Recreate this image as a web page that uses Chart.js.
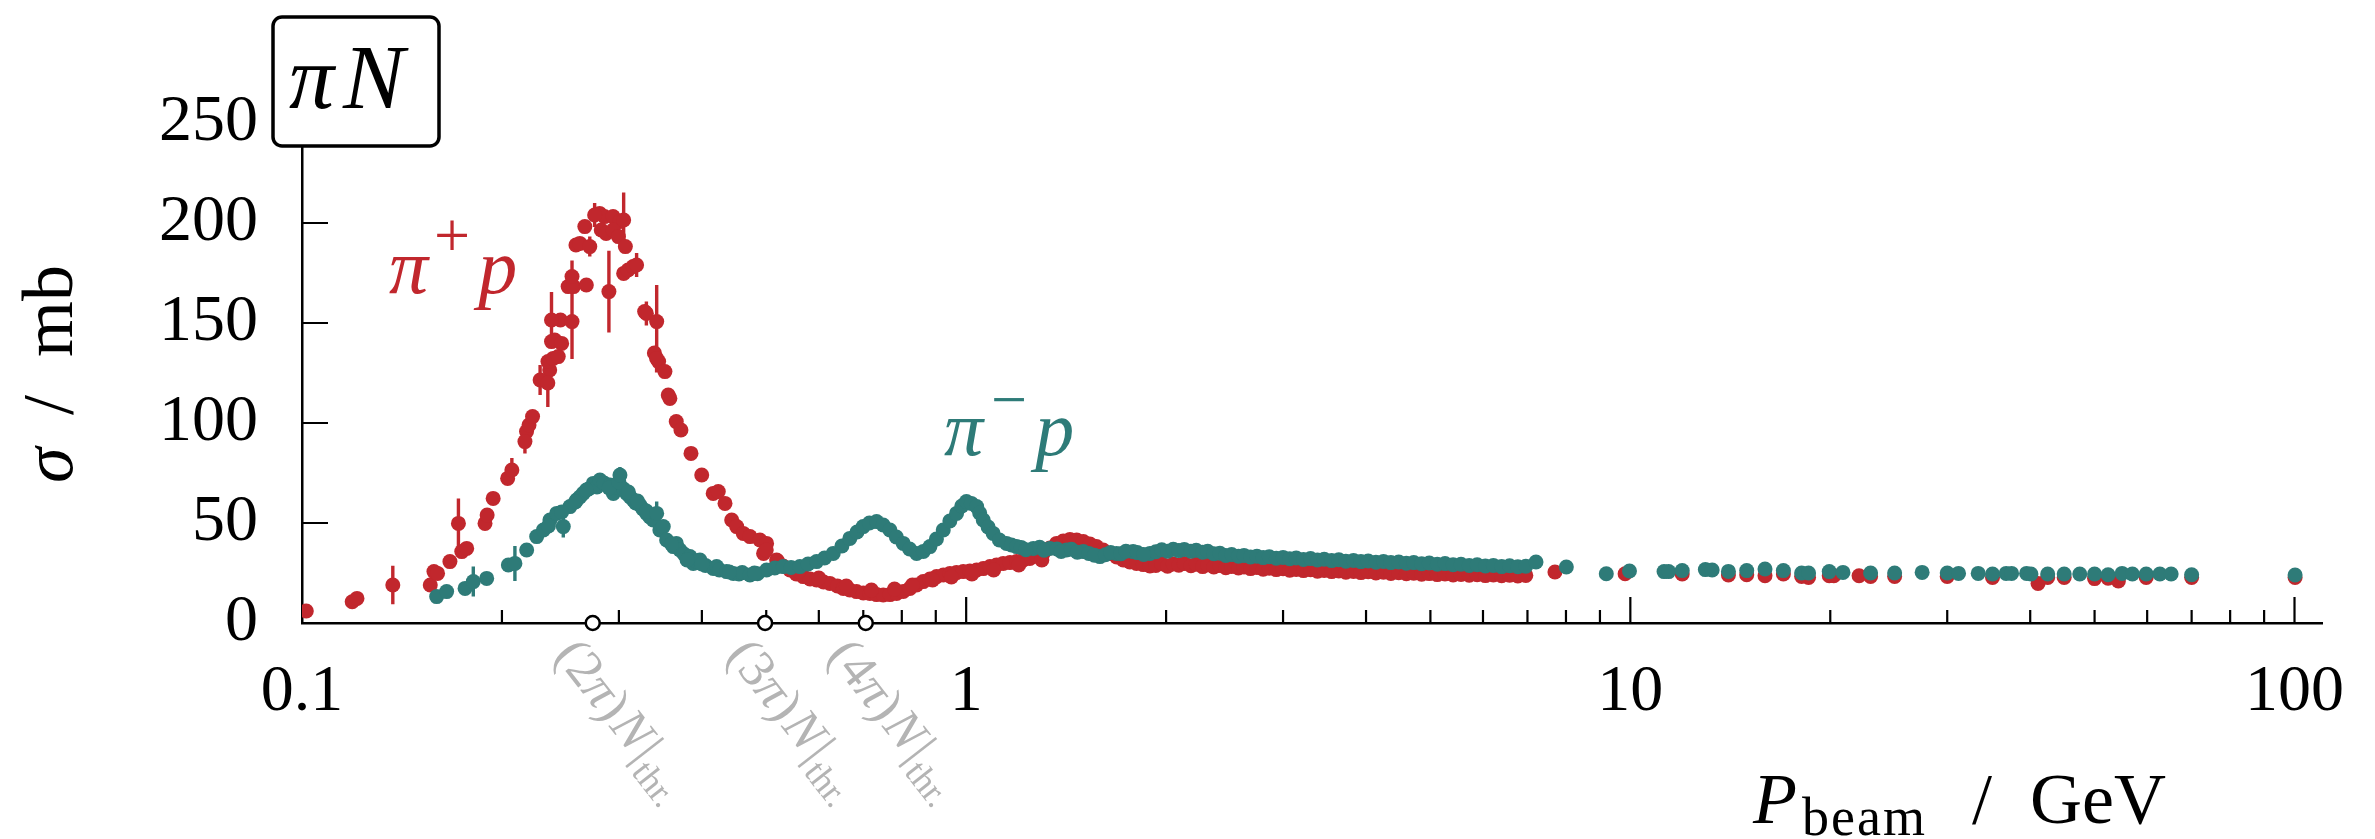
<!DOCTYPE html>
<html>
<head>
<meta charset="utf-8">
<script src="https://cdn.jsdelivr.net/npm/chart.js@4.4.1/dist/chart.umd.min.js"></script>
<style>
  html, body { margin: 0; padding: 0; background: #fff; }
  #wrap { width: 2375px; height: 839px; }
</style>
</head>
<body>
<div id="wrap"><canvas id="chart" width="2375" height="839"></canvas></div>
<script>
// pi+ p total cross section (red)
const piPlusP = [
  0.1015, 0.119, 0.121, 0.156, 0.158, 0.160, 0.167, 0.174, 0.177, 0.1886,
  0.190, 0.194, 0.204, 0.2178, 0.2197, 0.2224, 0.236, 0.2346, 0.2375, 0.2389,
  0.2402, 0.2431, 0.246, 0.245, 0.2516, 0.2563, 0.268, 0.2585, 0.262, 0.2666,
  0.2806, 0.2854, 0.294, 0.301, 0.2822, 0.287, 0.294, 0.2995, 0.3068, 0.305,
  0.3097, 0.3152, 0.328, 0.3393, 0.3443, 0.3519, 0.356, 0.358, 0.366, 0.372,
  0.3852, 0.3998, 0.416, 0.4234, 0.4334, 0.4436, 0.4513, 0.4617, 0.4726, 0.4892,
  0.5006, 0.4954, 0.5183, 0.53, 0.5428, 0.555, 0.5684, 0.582, 0.5953, 0.61,
  0.6235, 0.64, 0.653, 0.668, 0.6839, 0.70, 0.7162, 0.733, 0.7501, 0.768,
  0.7856, 0.804, 0.8228, 0.842, 0.8617, 0.882, 0.9025, 0.924, 0.9452, 0.967,
  0.990, 1.013, 1.037, 1.061, 1.086, 1.111, 1.137, 1.164, 1.191, 1.219,
  1.247, 1.276, 1.306, 1.337, 1.368, 1.40, 1.433, 1.467, 1.501, 1.536,
  1.571, 1.608, 1.646, 1.685, 1.724, 1.764, 1.805, 1.848, 1.891, 1.93,
  1.97, 2.01, 2.05, 2.09, 2.13, 2.18, 2.22, 2.27, 2.31, 2.36,
  2.41, 2.46, 2.51, 2.57, 2.62, 2.68, 2.74, 2.80, 2.86, 2.93,
  3.00, 3.07, 3.14, 3.22, 3.30, 3.38, 3.46, 3.55, 3.64, 3.73,
  3.83, 3.93, 4.03, 4.14, 4.25, 4.36, 4.48, 4.60, 4.72, 4.85,
  4.98, 5.12, 5.26, 5.41, 5.56, 5.72, 5.88, 6.05, 6.22, 6.40,
  6.58, 6.77, 6.96, 7.70, 9.82, 11.97, 14.05, 14.97, 15.95, 17.0,
  18.11, 18.55, 19.93, 20.25, 22.1, 23.0, 25.0, 30.0, 35.1, 41.1,
  42.5, 45.0, 50.0, 52.4, 54.3, 59.8, 70.0, 100.2,
  0.5, 0.52, 0.56, 0.6, 0.66, 0.72, 0.78, 0.83, 0.89, 0.95, 1.02, 1.1, 1.2, 1.3
];
const piPlusSigma = [
  6, 10.6, 12.3, 19, 25.7, 24.8, 30.7, 35.7, 37.3, 49.8,
  54, 62.3, 72.3, 95.7, 99, 103.2, 126.5, 130.7, 140.7, 132.3,
  141.5, 133.2, 139.8, 151.5, 168.2, 168.2, 169, 189, 189.8, 198.2,
  204.8, 203.2, 203.2, 200.7, 196.5, 194.8, 196.5, 193.2, 188.2, 174.8,
  176.5, 178.2, 155.7, 135, 130.7, 125.7, 114, 112.3, 100.7, 96.5,
  84.8, 74, 64.8, 65.7, 59.8, 51.5, 48.2, 44.8, 43.2, 41.5,
  39.8, 34.8, 31.5, 28.5, 26.5, 24.5, 23.2, 22, 21.5, 20.5,
  19.8, 18.5, 17.3, 16.5, 15.7, 15, 14.8, 14.2, 14, 14.2,
  14.8, 15.8, 17.3, 19, 20.7, 22, 23.2, 24, 24.8, 25.2,
  25.7, 26, 26.5, 27.2, 28.2, 29, 29.8, 30.2, 30.7, 31.5,
  32.3, 33.5, 34.8, 37.5, 39.8, 41, 41.8, 41.5, 40.7, 39.5,
  38.2, 36.5, 34.8, 33, 31.5, 30.5, 29.8, 29.2, 28.5, 28.8,
  29.6, 28.4, 29.5, 28.9, 29.8, 28.6, 29.4, 28.2, 29.1, 28.0,
  28.8, 27.6, 28.3, 27.5, 28.0, 27.2, 27.8, 26.9, 27.4, 26.7,
  27.1, 26.4, 26.8, 26.2, 26.6, 25.9, 26.3, 25.7, 26.0, 25.4,
  25.8, 25.2, 25.6, 25.0, 25.4, 24.8, 25.1, 24.6, 24.9, 24.4,
  24.7, 24.2, 24.5, 24.0, 24.3, 23.9, 24.1, 23.7, 24.0, 23.6,
  23.9, 23.5, 23.8, 25.5, 24.6, 24.5, 24.0, 24.1, 23.6, 24.5,
  23.3, 22.8, 23.6, 23.6, 23.6, 23.3, 23.3, 23.3, 22.8, 19.8,
  22.8, 22.8, 22.2, 22.4, 21.0, 22.8, 22.8, 22.8,
  36.5, 31, 26, 22.5, 18.5, 16.5, 17, 19, 21.5, 23, 24.5, 26.5, 29, 31.5
];
// pi+ p points that carry an error bar
const piPlusErrP     = [0.137, 0.172, 0.207, 0.2166, 0.2283, 0.2345, 0.2375, 0.255, 0.255, 0.2712, 0.2758, 0.2898, 0.305, 0.319, 0.330, 0.342, 0.3419];
const piPlusErrSigma = [19, 49.8, 76.5, 90.7, 121.5, 120, 151.5, 150.7, 173.2, 188.2, 204, 165.7, 201.5, 179, 154.8, 150.7, 132.3];
const piPlusErrSize  = [9.6, 12.5, 6, 6, 7.5, 12, 14, 18.7, 8, 5, 6, 20.4, 13.7, 6, 6, 18.3, 7];

// pi- p total cross section (teal)
const piMinusP = [
  0.1595, 0.1651, 0.1760, 0.1897, 0.2045, 0.2179, 0.2256, 0.2309, 0.2362, 0.2418,
  0.2532, 0.2591, 0.262, 0.2651, 0.270, 0.2745, 0.278, 0.2809, 0.285, 0.2909,
  0.2943, 0.298, 0.305, 0.3082, 0.312, 0.3153, 0.318, 0.3227, 0.326, 0.3303,
  0.334, 0.3379, 0.3458, 0.3499, 0.354, 0.3623, 0.3661, 0.3707, 0.376, 0.3838,
  0.3882, 0.392, 0.3973, 0.405, 0.416, 0.421, 0.425, 0.4358, 0.4461, 0.455,
  0.46, 0.4726, 0.485, 0.5006, 0.515, 0.5304, 0.545, 0.5619, 0.578, 0.5953,
  0.612, 0.6307, 0.65, 0.6681, 0.685, 0.6998, 0.715, 0.733, 0.75, 0.7677,
  0.785, 0.804, 0.822, 0.8422, 0.862, 0.882, 0.902, 0.9236, 0.945, 0.9672,
  0.985, 1.001, 1.018, 1.037, 1.048, 1.061, 1.079, 1.098, 1.122, 1.150,
  1.17, 1.191, 1.262, 1.336, 1.416, 1.501, 1.590, 1.684, 1.784, 1.891,
  1.93, 1.97, 2.01, 2.05, 2.09, 2.13, 2.18, 2.22, 2.27, 2.31,
  2.36, 2.41, 2.46, 2.51, 2.57, 2.62, 2.68, 2.74, 2.80, 2.86,
  2.93, 3.00, 3.07, 3.14, 3.22, 3.30, 3.38, 3.46, 3.55, 3.64,
  3.73, 3.83, 3.93, 4.03, 4.14, 4.25, 4.36, 4.48, 4.60, 4.72,
  4.85, 4.98, 5.12, 5.26, 5.41, 5.56, 5.72, 5.88, 6.05, 6.22,
  6.40, 6.58, 6.77, 6.96, 7.21, 8.01, 9.2, 9.97, 11.24, 11.42,
  11.97, 12.97, 13.28, 14.05, 14.97, 15.95, 17.0, 18.11, 18.55, 19.93,
  20.9, 23.0, 25.0, 27.5, 30.0, 31.2, 33.4, 35.1, 36.8, 37.5,
  39.5, 40.1, 42.5, 45.0, 47.5, 50.0, 52.4, 55.0, 57.0, 59.8,
  62.7, 65.2, 70.0, 100.2,
  1.21, 1.23, 1.29, 1.31, 1.37, 1.39, 1.44, 1.47, 1.53, 1.56,
  1.62, 1.65, 1.71, 1.74, 1.81, 1.85, 0.235, 0.246, 0.258, 0.268,
  0.29, 0.3, 0.31, 0.32, 0.33, 0.36, 0.38, 0.4, 0.44, 0.48
];
const piMinusSigma = [
  13.2, 15.7, 17.3, 22.3, 29, 36.5, 43.2, 46.5, 51.5, 54.8,
  58.2, 61.5, 63, 64.8, 67, 69.8, 68, 71.5, 70, 69,
  64.8, 68, 67, 64.8, 63, 61.5, 60, 59, 57, 54.8,
  53, 51.5, 46.5, 48.2, 41.5, 38.2, 39.8, 36.5, 34.5, 33.2,
  29.8, 31, 31.5, 28.8, 27.3, 28.2, 26.5, 25.7, 24.8, 24.5,
  25.2, 24, 24.6, 26.5, 27.5, 28.2, 27.8, 28.2, 29.5, 30.7,
  32.5, 34.8, 38.5, 42.3, 45.5, 48.2, 50, 50.7, 49, 46.5,
  43, 39.8, 37, 34.8, 35.8, 38.2, 42, 46.5, 51, 54.8,
  58.5, 60.7, 59.8, 58.2, 55, 51.5, 48, 44.8, 41.5, 39.8,
  39, 38.2, 37.3, 37.3, 36.5, 35.7, 33.2, 34.8, 35.7, 34.8,
  35.6, 36.6, 35.9, 36.9, 36.2, 36.8, 35.9, 36.4, 35.4, 35.9,
  34.6, 34.9, 33.8, 34.2, 33.4, 33.8, 33.0, 33.4, 32.7, 33.1,
  32.4, 32.8, 32.1, 32.5, 31.8, 32.2, 31.5, 31.9, 31.2, 31.6,
  30.9, 31.3, 30.7, 31.0, 30.4, 30.8, 30.2, 30.5, 29.9, 30.2,
  29.6, 30.0, 29.4, 29.7, 29.1, 29.4, 28.8, 29.1, 28.5, 28.8,
  28.2, 28.6, 28.1, 28.4, 30.5, 28.0, 24.6, 26.0, 25.7, 25.7,
  26.2, 26.7, 26.5, 25.8, 26.2, 27.0, 26.2, 25.0, 25.0, 25.7,
  25.3, 25.0, 25.0, 25.3, 25.0, 24.8, 24.8, 24.5, 24.8, 24.8,
  24.8, 24.5, 24.5, 24.5, 24.5, 24.5, 24.1, 24.8, 24.5, 24.5,
  24.5, 24.5, 24.1, 24.0,
  37.8, 36.6, 37.9, 36.4, 37.0, 35.8, 36.9, 35.4, 34.8, 33.9,
  34.1, 35.2, 34.6, 35.9, 35.2, 34.3, 48.5, 55.5, 60.5, 66.5,
  67.5, 70.5, 65.5, 61, 56, 39.5, 31.5, 29.5, 25.5, 25
];
const piMinusErrP     = [0.1811, 0.2092, 0.2474, 0.3011, 0.342];
const piMinusErrSigma = [20.7, 29.8, 48.2, 74, 54.8];
const piMinusErrSize  = [7.5, 8.75, 5.5, 4, 6];

// (n pi) N production thresholds on the beam momentum axis
const thresholdP = [0.274, 0.498, 0.706];
const thresholdNames = ['2', '3', '4'];

// axis ticks
const xTickValues = [0.1, 1, 10, 100];
const xTickLabels = ['0.1', '1', '10', '100'];
const xMinorTicks = [0.2, 0.3, 0.4, 0.5, 0.6, 0.7, 0.8, 0.9, 2, 3, 4, 5, 6, 7, 8, 9, 20, 30, 40, 50, 60, 70, 80, 90];
const yTickValues = [0, 50, 100, 150, 200, 250];
const yInnerTicks = [50, 100, 150, 200];

const RED = '#c1272d';
const TEAL = '#2e7b78';
const GREY = '#b4b4b4';
const SERIF = '"Liberation Serif", "DejaVu Serif", serif';

function toPoints(xs, ys) {
  return xs.map((x, i) => ({ x: x, y: ys[i] }));
}

// draw a row of text pieces: [text, font, dx-before, dy]
function drawRuns(ctx, x, y, runs) {
  let cx = x;
  runs.forEach(r => {
    ctx.font = r[1];
    cx += r[2] || 0;
    ctx.fillText(r[0], cx, y + (r[3] || 0));
    cx += ctx.measureText(r[0]).width;
  });
}

const decor = {
  id: 'decor',
  beforeDatasetsDraw(chart) {
    const ctx = chart.ctx;
    const xs = chart.scales.x, ys = chart.scales.y;
    const area = chart.chartArea;
    ctx.save();
    ctx.strokeStyle = '#000';
    ctx.lineWidth = 2.2;
    ctx.beginPath();
    xTickValues.slice(1).forEach(v => {
      const px = xs.getPixelForValue(v);
      ctx.moveTo(px, area.bottom); ctx.lineTo(px, area.bottom - 26);
    });
    xMinorTicks.forEach(v => {
      const px = xs.getPixelForValue(v);
      ctx.moveTo(px, area.bottom); ctx.lineTo(px, area.bottom - 13);
    });
    yInnerTicks.forEach(v => {
      const py = ys.getPixelForValue(v);
      ctx.moveTo(area.left, py); ctx.lineTo(area.left + 26, py);
    });
    ctx.stroke();

    // error bars
    ctx.lineWidth = 3.4;
    [[piPlusErrP, piPlusErrSigma, piPlusErrSize, RED], [piMinusErrP, piMinusErrSigma, piMinusErrSize, TEAL]].forEach(set => {
      ctx.strokeStyle = set[3];
      ctx.beginPath();
      set[0].forEach((p, i) => {
        const px = xs.getPixelForValue(p);
        ctx.moveTo(px, ys.getPixelForValue(set[1][i] - set[2][i]));
        ctx.lineTo(px, ys.getPixelForValue(set[1][i] + set[2][i]));
      });
      ctx.stroke();
    });
    ctx.restore();
  },
  afterDraw(chart) {
    const ctx = chart.ctx;
    const xs = chart.scales.x;
    const area = chart.chartArea;
    ctx.save();
    ctx.textBaseline = 'alphabetic';
    ctx.textAlign = 'left';

    // threshold labels
    ctx.fillStyle = GREY;
    thresholdP.forEach((p, i) => {
      const px = xs.getPixelForValue(p);
      ctx.save();
      ctx.translate(px - 8, area.bottom + 8);
      ctx.rotate(52 * Math.PI / 180);
      drawRuns(ctx, 0, 40, [
        ['(' + thresholdNames[i], '52px ' + SERIF],
        ['π', 'italic 52px ' + SERIF],
        [')', '52px ' + SERIF],
        ['N', 'italic 52px ' + SERIF, 3],
        ['|', '52px ' + SERIF, 3],
        ['thr.', '36px ' + SERIF, 2, 11]
      ]);
      ctx.restore();
    });

    // series labels
    ctx.fillStyle = RED;
    drawRuns(ctx, 389, 293, [
      ['π', 'italic 78px ' + SERIF],
      ['+', '64px ' + SERIF, 6, -36],
      ['p', 'italic 78px ' + SERIF, 8]
    ]);
    ctx.fillStyle = TEAL;
    drawRuns(ctx, 944, 455, [
      ['π', 'italic 78px ' + SERIF],
      ['\u2212', '64px ' + SERIF, 8, -34],
      ['p', 'italic 78px ' + SERIF, 8]
    ]);

    // axis titles
    ctx.fillStyle = '#000';
    drawRuns(ctx, 1753, 823, [['P', 'italic 72px ' + SERIF]]);
    ctx.letterSpacing = '2px';
    drawRuns(ctx, 1802, 835, [['beam', '54px ' + SERIF]]);
    ctx.letterSpacing = '0px';
    drawRuns(ctx, 1972, 823, [['/', '72px ' + SERIF]]);
    drawRuns(ctx, 2030, 823, [['GeV', '72px ' + SERIF]]);

    ctx.save();
    ctx.translate(72, 483);
    ctx.rotate(-Math.PI / 2);
    drawRuns(ctx, 0, 0, [['σ', 'italic 72px ' + SERIF]]);
    drawRuns(ctx, 68, 0, [['/', '72px ' + SERIF]]);
    drawRuns(ctx, 126, 0, [['mb', '72px ' + SERIF]]);
    ctx.restore();

    // panel tag
    ctx.beginPath();
    ctx.roundRect(273, 17, 166, 129, 9);
    ctx.fillStyle = '#fff';
    ctx.fill();
    ctx.lineWidth = 3.5;
    ctx.strokeStyle = '#000';
    ctx.stroke();
    ctx.fillStyle = '#000';
    drawRuns(ctx, 289, 108, [['π', 'italic 90px ' + SERIF]]);
    drawRuns(ctx, 343, 108, [['N', 'italic 92px ' + SERIF]]);
    ctx.restore();
  }
};

const ctx = document.getElementById('chart').getContext('2d');
new Chart(ctx, {
  type: 'scatter',
  data: {
    datasets: [
      {
        label: 'thresholds',
        data: thresholdP.map(p => ({ x: p, y: 0 })),
        pointRadius: 7,
        pointBackgroundColor: '#fff',
        pointBorderColor: '#000',
        pointBorderWidth: 2.5,
        clip: false
      },
      {
        label: 'π⁻p',
        data: toPoints(piMinusP, piMinusSigma).concat(toPoints(piMinusErrP, piMinusErrSigma)),
        pointRadius: 7.5,
        pointBorderWidth: 0,
        pointBackgroundColor: TEAL
      },
      {
        label: 'π⁺p',
        data: toPoints(piPlusP, piPlusSigma).concat(toPoints(piPlusErrP, piPlusErrSigma)),
        pointRadius: 7.5,
        pointBorderWidth: 0,
        pointBackgroundColor: RED
      }
    ]
  },
  options: {
    responsive: false,
    devicePixelRatio: 1,
    animation: false,
    layout: { padding: { left: 0, top: 123, right: 53, bottom: 0 } },
    plugins: { legend: { display: false }, tooltip: { enabled: false } },
    scales: {
      x: {
        type: 'logarithmic',
        min: 0.1,
        max: 110,
        grid: { display: false, drawTicks: false },
        border: { display: true, color: '#000', width: 2.5 },
        afterBuildTicks: scale => { scale.ticks = xTickValues.map(v => ({ value: v })); },
        afterFit: scale => { scale.height = 216; },
        ticks: {
          padding: 30,
          maxRotation: 0,
          autoSkip: false,
          color: '#000',
          font: { family: 'Liberation Serif', size: 66 },
          callback: (v, i) => xTickLabels[i]
        }
      },
      y: {
        min: 0,
        max: 250,
        grid: { display: false, drawTicks: false },
        border: { display: true, color: '#000', width: 2.5 },
        afterBuildTicks: scale => { scale.ticks = yTickValues.map(v => ({ value: v })); },
        afterFit: scale => { scale.width = 302; },
        ticks: {
          padding: 44,
          color: '#000',
          font: { family: 'Liberation Serif', size: 66 },
          callback: v => String(v)
        }
      }
    }
  },
  plugins: [decor]
});
</script>
</body>
</html>
